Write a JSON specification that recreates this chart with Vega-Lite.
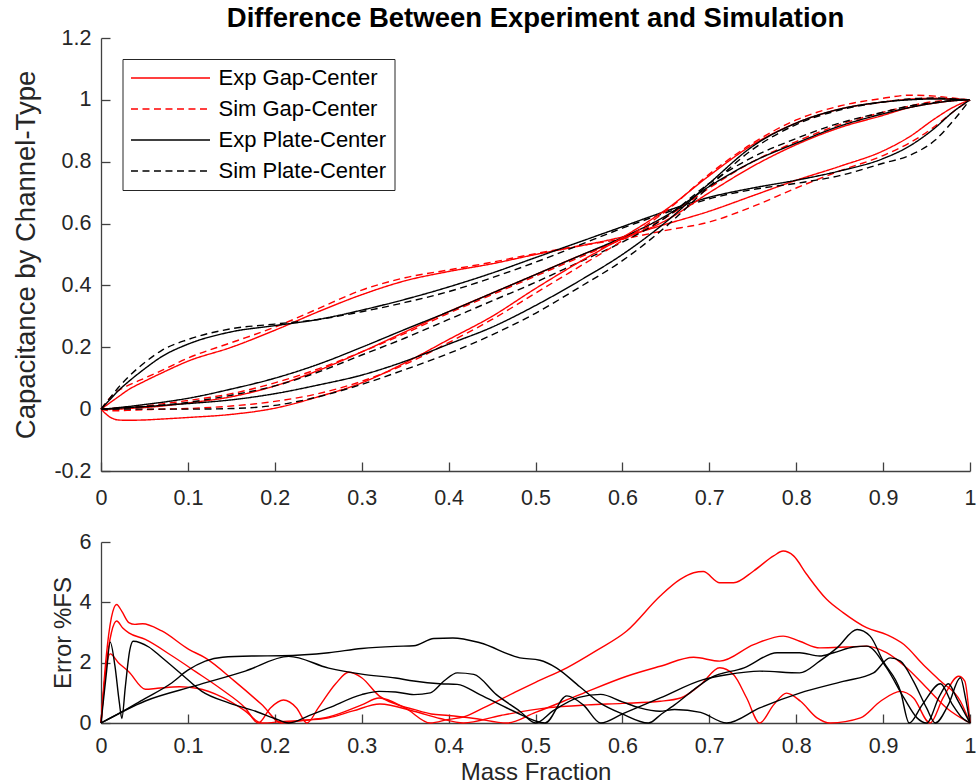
{
  "$schema": "https://vega.github.io/schema/vega-lite/v6.json",
  "padding": {"left": 12, "top": 4, "right": 0, "bottom": 0},
  "config": {
    "font": "Liberation Sans",
    "view": {"stroke": null},
    "axis": {
      "grid": false,
      "domainColor": "#404040",
      "domainWidth": 1.3,
      "tickColor": "#404040",
      "tickWidth": 1.3,
      "tickSize": -9,
      "labelFont": "Liberation Sans",
      "labelFontSize": 21.5,
      "labelColor": "#262626",
      "titleFont": "Liberation Sans",
      "titleFontWeight": "normal",
      "titleColor": "#262626",
      "labelFlush": false,
      "labelOverlap": false
    },
    "legend": {
      "orient": "none",
      "legendX": 21.5,
      "legendY": 21,
      "padding": 8,
      "strokeColor": "#262626",
      "fillColor": "#ffffff",
      "labelFont": "Liberation Sans",
      "labelFontSize": 22,
      "labelColor": "#000000",
      "labelLimit": 400,
      "symbolType": "M-4.16,0H4.16",
      "symbolSize": 361,
      "symbolStrokeWidth": 1.5,
      "symbolOffset": 29,
      "labelOffset": 37,
      "rowPadding": 9
    }
  },
  "datasets": {
    "capacitance": [
      {"series":"Exp Gap-Center","channel":"A","mass":0,"cap":0},
      {"series":"Exp Gap-Center","channel":"A","mass":0.01,"cap":0.02},
      {"series":"Exp Gap-Center","channel":"A","mass":0.02,"cap":0.04},
      {"series":"Exp Gap-Center","channel":"A","mass":0.03,"cap":0.06},
      {"series":"Exp Gap-Center","channel":"A","mass":0.05,"cap":0.09},
      {"series":"Exp Gap-Center","channel":"A","mass":0.07,"cap":0.117},
      {"series":"Exp Gap-Center","channel":"A","mass":0.1,"cap":0.155},
      {"series":"Exp Gap-Center","channel":"A","mass":0.15,"cap":0.2},
      {"series":"Exp Gap-Center","channel":"A","mass":0.2,"cap":0.255},
      {"series":"Exp Gap-Center","channel":"A","mass":0.25,"cap":0.315},
      {"series":"Exp Gap-Center","channel":"A","mass":0.3,"cap":0.37},
      {"series":"Exp Gap-Center","channel":"A","mass":0.35,"cap":0.415},
      {"series":"Exp Gap-Center","channel":"A","mass":0.4,"cap":0.445},
      {"series":"Exp Gap-Center","channel":"A","mass":0.45,"cap":0.47},
      {"series":"Exp Gap-Center","channel":"A","mass":0.5,"cap":0.5},
      {"series":"Exp Gap-Center","channel":"A","mass":0.55,"cap":0.527},
      {"series":"Exp Gap-Center","channel":"A","mass":0.6,"cap":0.557},
      {"series":"Exp Gap-Center","channel":"A","mass":0.65,"cap":0.598},
      {"series":"Exp Gap-Center","channel":"A","mass":0.7,"cap":0.64},
      {"series":"Exp Gap-Center","channel":"A","mass":0.75,"cap":0.69},
      {"series":"Exp Gap-Center","channel":"A","mass":0.8,"cap":0.74},
      {"series":"Exp Gap-Center","channel":"A","mass":0.85,"cap":0.785},
      {"series":"Exp Gap-Center","channel":"A","mass":0.9,"cap":0.835},
      {"series":"Exp Gap-Center","channel":"A","mass":0.93,"cap":0.88},
      {"series":"Exp Gap-Center","channel":"A","mass":0.96,"cap":0.94},
      {"series":"Exp Gap-Center","channel":"A","mass":0.98,"cap":0.975},
      {"series":"Exp Gap-Center","channel":"A","mass":1,"cap":1},

      {"series":"Sim Gap-Center","channel":"A","mass":0,"cap":0},
      {"series":"Sim Gap-Center","channel":"A","mass":0.01,"cap":0.035},
      {"series":"Sim Gap-Center","channel":"A","mass":0.02,"cap":0.06},
      {"series":"Sim Gap-Center","channel":"A","mass":0.03,"cap":0.075},
      {"series":"Sim Gap-Center","channel":"A","mass":0.05,"cap":0.1},
      {"series":"Sim Gap-Center","channel":"A","mass":0.07,"cap":0.125},
      {"series":"Sim Gap-Center","channel":"A","mass":0.1,"cap":0.165},
      {"series":"Sim Gap-Center","channel":"A","mass":0.15,"cap":0.215},
      {"series":"Sim Gap-Center","channel":"A","mass":0.2,"cap":0.265},
      {"series":"Sim Gap-Center","channel":"A","mass":0.25,"cap":0.325},
      {"series":"Sim Gap-Center","channel":"A","mass":0.3,"cap":0.385},
      {"series":"Sim Gap-Center","channel":"A","mass":0.35,"cap":0.425},
      {"series":"Sim Gap-Center","channel":"A","mass":0.4,"cap":0.45},
      {"series":"Sim Gap-Center","channel":"A","mass":0.45,"cap":0.475},
      {"series":"Sim Gap-Center","channel":"A","mass":0.5,"cap":0.503},
      {"series":"Sim Gap-Center","channel":"A","mass":0.55,"cap":0.528},
      {"series":"Sim Gap-Center","channel":"A","mass":0.6,"cap":0.55},
      {"series":"Sim Gap-Center","channel":"A","mass":0.65,"cap":0.578},
      {"series":"Sim Gap-Center","channel":"A","mass":0.7,"cap":0.605},
      {"series":"Sim Gap-Center","channel":"A","mass":0.75,"cap":0.655},
      {"series":"Sim Gap-Center","channel":"A","mass":0.8,"cap":0.715},
      {"series":"Sim Gap-Center","channel":"A","mass":0.85,"cap":0.77},
      {"series":"Sim Gap-Center","channel":"A","mass":0.9,"cap":0.82},
      {"series":"Sim Gap-Center","channel":"A","mass":0.93,"cap":0.86},
      {"series":"Sim Gap-Center","channel":"A","mass":0.96,"cap":0.915},
      {"series":"Sim Gap-Center","channel":"A","mass":0.98,"cap":0.96},
      {"series":"Sim Gap-Center","channel":"A","mass":1,"cap":1},

      {"series":"Exp Plate-Center","channel":"A","mass":0,"cap":0},
      {"series":"Exp Plate-Center","channel":"A","mass":0.01,"cap":0.03},
      {"series":"Exp Plate-Center","channel":"A","mass":0.02,"cap":0.06},
      {"series":"Exp Plate-Center","channel":"A","mass":0.03,"cap":0.085},
      {"series":"Exp Plate-Center","channel":"A","mass":0.05,"cap":0.13},
      {"series":"Exp Plate-Center","channel":"A","mass":0.07,"cap":0.17},
      {"series":"Exp Plate-Center","channel":"A","mass":0.1,"cap":0.21},
      {"series":"Exp Plate-Center","channel":"A","mass":0.15,"cap":0.25},
      {"series":"Exp Plate-Center","channel":"A","mass":0.2,"cap":0.27},
      {"series":"Exp Plate-Center","channel":"A","mass":0.25,"cap":0.29},
      {"series":"Exp Plate-Center","channel":"A","mass":0.3,"cap":0.32},
      {"series":"Exp Plate-Center","channel":"A","mass":0.35,"cap":0.355},
      {"series":"Exp Plate-Center","channel":"A","mass":0.4,"cap":0.395},
      {"series":"Exp Plate-Center","channel":"A","mass":0.45,"cap":0.44},
      {"series":"Exp Plate-Center","channel":"A","mass":0.5,"cap":0.49},
      {"series":"Exp Plate-Center","channel":"A","mass":0.55,"cap":0.54},
      {"series":"Exp Plate-Center","channel":"A","mass":0.6,"cap":0.59},
      {"series":"Exp Plate-Center","channel":"A","mass":0.65,"cap":0.64},
      {"series":"Exp Plate-Center","channel":"A","mass":0.7,"cap":0.685},
      {"series":"Exp Plate-Center","channel":"A","mass":0.75,"cap":0.715},
      {"series":"Exp Plate-Center","channel":"A","mass":0.8,"cap":0.74},
      {"series":"Exp Plate-Center","channel":"A","mass":0.85,"cap":0.77},
      {"series":"Exp Plate-Center","channel":"A","mass":0.9,"cap":0.81},
      {"series":"Exp Plate-Center","channel":"A","mass":0.93,"cap":0.85},
      {"series":"Exp Plate-Center","channel":"A","mass":0.96,"cap":0.91},
      {"series":"Exp Plate-Center","channel":"A","mass":0.98,"cap":0.96},
      {"series":"Exp Plate-Center","channel":"A","mass":1,"cap":1},

      {"series":"Sim Plate-Center","channel":"A","mass":0,"cap":0},
      {"series":"Sim Plate-Center","channel":"A","mass":0.01,"cap":0.035},
      {"series":"Sim Plate-Center","channel":"A","mass":0.02,"cap":0.07},
      {"series":"Sim Plate-Center","channel":"A","mass":0.03,"cap":0.1},
      {"series":"Sim Plate-Center","channel":"A","mass":0.05,"cap":0.15},
      {"series":"Sim Plate-Center","channel":"A","mass":0.07,"cap":0.19},
      {"series":"Sim Plate-Center","channel":"A","mass":0.1,"cap":0.225},
      {"series":"Sim Plate-Center","channel":"A","mass":0.15,"cap":0.26},
      {"series":"Sim Plate-Center","channel":"A","mass":0.2,"cap":0.275},
      {"series":"Sim Plate-Center","channel":"A","mass":0.25,"cap":0.29},
      {"series":"Sim Plate-Center","channel":"A","mass":0.3,"cap":0.315},
      {"series":"Sim Plate-Center","channel":"A","mass":0.35,"cap":0.345},
      {"series":"Sim Plate-Center","channel":"A","mass":0.4,"cap":0.38},
      {"series":"Sim Plate-Center","channel":"A","mass":0.45,"cap":0.425},
      {"series":"Sim Plate-Center","channel":"A","mass":0.5,"cap":0.475},
      {"series":"Sim Plate-Center","channel":"A","mass":0.55,"cap":0.53},
      {"series":"Sim Plate-Center","channel":"A","mass":0.6,"cap":0.585},
      {"series":"Sim Plate-Center","channel":"A","mass":0.65,"cap":0.635},
      {"series":"Sim Plate-Center","channel":"A","mass":0.7,"cap":0.68},
      {"series":"Sim Plate-Center","channel":"A","mass":0.75,"cap":0.71},
      {"series":"Sim Plate-Center","channel":"A","mass":0.8,"cap":0.73},
      {"series":"Sim Plate-Center","channel":"A","mass":0.85,"cap":0.755},
      {"series":"Sim Plate-Center","channel":"A","mass":0.9,"cap":0.795},
      {"series":"Sim Plate-Center","channel":"A","mass":0.93,"cap":0.82},
      {"series":"Sim Plate-Center","channel":"A","mass":0.96,"cap":0.87},
      {"series":"Sim Plate-Center","channel":"A","mass":0.98,"cap":0.93},
      {"series":"Sim Plate-Center","channel":"A","mass":1,"cap":1},

      {"series":"Exp Gap-Center","channel":"B","mass":0,"cap":0},
      {"series":"Exp Gap-Center","channel":"B","mass":0.01,"cap":0},
      {"series":"Exp Gap-Center","channel":"B","mass":0.02,"cap":0},
      {"series":"Exp Gap-Center","channel":"B","mass":0.03,"cap":0.002},
      {"series":"Exp Gap-Center","channel":"B","mass":0.05,"cap":0.005},
      {"series":"Exp Gap-Center","channel":"B","mass":0.07,"cap":0.01},
      {"series":"Exp Gap-Center","channel":"B","mass":0.1,"cap":0.02},
      {"series":"Exp Gap-Center","channel":"B","mass":0.15,"cap":0.04},
      {"series":"Exp Gap-Center","channel":"B","mass":0.2,"cap":0.075},
      {"series":"Exp Gap-Center","channel":"B","mass":0.25,"cap":0.125},
      {"series":"Exp Gap-Center","channel":"B","mass":0.3,"cap":0.185},
      {"series":"Exp Gap-Center","channel":"B","mass":0.35,"cap":0.25},
      {"series":"Exp Gap-Center","channel":"B","mass":0.4,"cap":0.315},
      {"series":"Exp Gap-Center","channel":"B","mass":0.45,"cap":0.375},
      {"series":"Exp Gap-Center","channel":"B","mass":0.5,"cap":0.435},
      {"series":"Exp Gap-Center","channel":"B","mass":0.55,"cap":0.495},
      {"series":"Exp Gap-Center","channel":"B","mass":0.6,"cap":0.55},
      {"series":"Exp Gap-Center","channel":"B","mass":0.65,"cap":0.61},
      {"series":"Exp Gap-Center","channel":"B","mass":0.7,"cap":0.7},
      {"series":"Exp Gap-Center","channel":"B","mass":0.75,"cap":0.785},
      {"series":"Exp Gap-Center","channel":"B","mass":0.8,"cap":0.855},
      {"series":"Exp Gap-Center","channel":"B","mass":0.85,"cap":0.91},
      {"series":"Exp Gap-Center","channel":"B","mass":0.9,"cap":0.95},
      {"series":"Exp Gap-Center","channel":"B","mass":0.93,"cap":0.975},
      {"series":"Exp Gap-Center","channel":"B","mass":0.96,"cap":0.99},
      {"series":"Exp Gap-Center","channel":"B","mass":0.98,"cap":0.997},
      {"series":"Exp Gap-Center","channel":"B","mass":1,"cap":1},

      {"series":"Sim Gap-Center","channel":"B","mass":0,"cap":0},
      {"series":"Sim Gap-Center","channel":"B","mass":0.01,"cap":0.002},
      {"series":"Sim Gap-Center","channel":"B","mass":0.02,"cap":0.004},
      {"series":"Sim Gap-Center","channel":"B","mass":0.03,"cap":0.006},
      {"series":"Sim Gap-Center","channel":"B","mass":0.05,"cap":0.01},
      {"series":"Sim Gap-Center","channel":"B","mass":0.07,"cap":0.017},
      {"series":"Sim Gap-Center","channel":"B","mass":0.1,"cap":0.028},
      {"series":"Sim Gap-Center","channel":"B","mass":0.15,"cap":0.05},
      {"series":"Sim Gap-Center","channel":"B","mass":0.2,"cap":0.085},
      {"series":"Sim Gap-Center","channel":"B","mass":0.25,"cap":0.13},
      {"series":"Sim Gap-Center","channel":"B","mass":0.3,"cap":0.185},
      {"series":"Sim Gap-Center","channel":"B","mass":0.35,"cap":0.245},
      {"series":"Sim Gap-Center","channel":"B","mass":0.4,"cap":0.31},
      {"series":"Sim Gap-Center","channel":"B","mass":0.45,"cap":0.37},
      {"series":"Sim Gap-Center","channel":"B","mass":0.5,"cap":0.43},
      {"series":"Sim Gap-Center","channel":"B","mass":0.55,"cap":0.49},
      {"series":"Sim Gap-Center","channel":"B","mass":0.6,"cap":0.55},
      {"series":"Sim Gap-Center","channel":"B","mass":0.65,"cap":0.62},
      {"series":"Sim Gap-Center","channel":"B","mass":0.7,"cap":0.715},
      {"series":"Sim Gap-Center","channel":"B","mass":0.75,"cap":0.8},
      {"series":"Sim Gap-Center","channel":"B","mass":0.8,"cap":0.865},
      {"series":"Sim Gap-Center","channel":"B","mass":0.85,"cap":0.92},
      {"series":"Sim Gap-Center","channel":"B","mass":0.9,"cap":0.96},
      {"series":"Sim Gap-Center","channel":"B","mass":0.93,"cap":0.98},
      {"series":"Sim Gap-Center","channel":"B","mass":0.96,"cap":0.995},
      {"series":"Sim Gap-Center","channel":"B","mass":0.98,"cap":1},
      {"series":"Sim Gap-Center","channel":"B","mass":1,"cap":1},

      {"series":"Exp Plate-Center","channel":"B","mass":0,"cap":0},
      {"series":"Exp Plate-Center","channel":"B","mass":0.01,"cap":0.002},
      {"series":"Exp Plate-Center","channel":"B","mass":0.02,"cap":0.005},
      {"series":"Exp Plate-Center","channel":"B","mass":0.03,"cap":0.008},
      {"series":"Exp Plate-Center","channel":"B","mass":0.05,"cap":0.015},
      {"series":"Exp Plate-Center","channel":"B","mass":0.07,"cap":0.022},
      {"series":"Exp Plate-Center","channel":"B","mass":0.1,"cap":0.035},
      {"series":"Exp Plate-Center","channel":"B","mass":0.15,"cap":0.065},
      {"series":"Exp Plate-Center","channel":"B","mass":0.2,"cap":0.1},
      {"series":"Exp Plate-Center","channel":"B","mass":0.25,"cap":0.145},
      {"series":"Exp Plate-Center","channel":"B","mass":0.3,"cap":0.2},
      {"series":"Exp Plate-Center","channel":"B","mass":0.35,"cap":0.258},
      {"series":"Exp Plate-Center","channel":"B","mass":0.4,"cap":0.315},
      {"series":"Exp Plate-Center","channel":"B","mass":0.45,"cap":0.375},
      {"series":"Exp Plate-Center","channel":"B","mass":0.5,"cap":0.435},
      {"series":"Exp Plate-Center","channel":"B","mass":0.55,"cap":0.495},
      {"series":"Exp Plate-Center","channel":"B","mass":0.6,"cap":0.555},
      {"series":"Exp Plate-Center","channel":"B","mass":0.65,"cap":0.625},
      {"series":"Exp Plate-Center","channel":"B","mass":0.7,"cap":0.72},
      {"series":"Exp Plate-Center","channel":"B","mass":0.75,"cap":0.8},
      {"series":"Exp Plate-Center","channel":"B","mass":0.8,"cap":0.86},
      {"series":"Exp Plate-Center","channel":"B","mass":0.85,"cap":0.915},
      {"series":"Exp Plate-Center","channel":"B","mass":0.9,"cap":0.955},
      {"series":"Exp Plate-Center","channel":"B","mass":0.93,"cap":0.975},
      {"series":"Exp Plate-Center","channel":"B","mass":0.96,"cap":0.99},
      {"series":"Exp Plate-Center","channel":"B","mass":0.98,"cap":0.997},
      {"series":"Exp Plate-Center","channel":"B","mass":1,"cap":1},

      {"series":"Sim Plate-Center","channel":"B","mass":0,"cap":0},
      {"series":"Sim Plate-Center","channel":"B","mass":0.01,"cap":0.001},
      {"series":"Sim Plate-Center","channel":"B","mass":0.02,"cap":0.002},
      {"series":"Sim Plate-Center","channel":"B","mass":0.03,"cap":0.004},
      {"series":"Sim Plate-Center","channel":"B","mass":0.05,"cap":0.008},
      {"series":"Sim Plate-Center","channel":"B","mass":0.07,"cap":0.013},
      {"series":"Sim Plate-Center","channel":"B","mass":0.1,"cap":0.022},
      {"series":"Sim Plate-Center","channel":"B","mass":0.15,"cap":0.045},
      {"series":"Sim Plate-Center","channel":"B","mass":0.2,"cap":0.075},
      {"series":"Sim Plate-Center","channel":"B","mass":0.25,"cap":0.12},
      {"series":"Sim Plate-Center","channel":"B","mass":0.3,"cap":0.175},
      {"series":"Sim Plate-Center","channel":"B","mass":0.35,"cap":0.23},
      {"series":"Sim Plate-Center","channel":"B","mass":0.4,"cap":0.29},
      {"series":"Sim Plate-Center","channel":"B","mass":0.45,"cap":0.35},
      {"series":"Sim Plate-Center","channel":"B","mass":0.5,"cap":0.41},
      {"series":"Sim Plate-Center","channel":"B","mass":0.55,"cap":0.475},
      {"series":"Sim Plate-Center","channel":"B","mass":0.6,"cap":0.54},
      {"series":"Sim Plate-Center","channel":"B","mass":0.65,"cap":0.62},
      {"series":"Sim Plate-Center","channel":"B","mass":0.7,"cap":0.73},
      {"series":"Sim Plate-Center","channel":"B","mass":0.75,"cap":0.815},
      {"series":"Sim Plate-Center","channel":"B","mass":0.8,"cap":0.875},
      {"series":"Sim Plate-Center","channel":"B","mass":0.85,"cap":0.925},
      {"series":"Sim Plate-Center","channel":"B","mass":0.9,"cap":0.96},
      {"series":"Sim Plate-Center","channel":"B","mass":0.93,"cap":0.98},
      {"series":"Sim Plate-Center","channel":"B","mass":0.96,"cap":0.992},
      {"series":"Sim Plate-Center","channel":"B","mass":0.98,"cap":0.998},
      {"series":"Sim Plate-Center","channel":"B","mass":1,"cap":1},

      {"series":"Exp Gap-Center","channel":"C","mass":0,"cap":0},
      {"series":"Exp Gap-Center","channel":"C","mass":0.01,"cap":-0.025},
      {"series":"Exp Gap-Center","channel":"C","mass":0.02,"cap":-0.035},
      {"series":"Exp Gap-Center","channel":"C","mass":0.03,"cap":-0.036},
      {"series":"Exp Gap-Center","channel":"C","mass":0.05,"cap":-0.035},
      {"series":"Exp Gap-Center","channel":"C","mass":0.07,"cap":-0.032},
      {"series":"Exp Gap-Center","channel":"C","mass":0.1,"cap":-0.027},
      {"series":"Exp Gap-Center","channel":"C","mass":0.15,"cap":-0.017},
      {"series":"Exp Gap-Center","channel":"C","mass":0.2,"cap":0.003},
      {"series":"Exp Gap-Center","channel":"C","mass":0.25,"cap":0.04},
      {"series":"Exp Gap-Center","channel":"C","mass":0.3,"cap":0.085},
      {"series":"Exp Gap-Center","channel":"C","mass":0.35,"cap":0.15},
      {"series":"Exp Gap-Center","channel":"C","mass":0.4,"cap":0.225},
      {"series":"Exp Gap-Center","channel":"C","mass":0.45,"cap":0.3},
      {"series":"Exp Gap-Center","channel":"C","mass":0.5,"cap":0.39},
      {"series":"Exp Gap-Center","channel":"C","mass":0.55,"cap":0.475},
      {"series":"Exp Gap-Center","channel":"C","mass":0.6,"cap":0.555},
      {"series":"Exp Gap-Center","channel":"C","mass":0.65,"cap":0.645},
      {"series":"Exp Gap-Center","channel":"C","mass":0.7,"cap":0.755},
      {"series":"Exp Gap-Center","channel":"C","mass":0.75,"cap":0.855},
      {"series":"Exp Gap-Center","channel":"C","mass":0.8,"cap":0.925},
      {"series":"Exp Gap-Center","channel":"C","mass":0.85,"cap":0.97},
      {"series":"Exp Gap-Center","channel":"C","mass":0.9,"cap":0.993},
      {"series":"Exp Gap-Center","channel":"C","mass":0.93,"cap":1.002},
      {"series":"Exp Gap-Center","channel":"C","mass":0.96,"cap":1.005},
      {"series":"Exp Gap-Center","channel":"C","mass":0.98,"cap":1.003},
      {"series":"Exp Gap-Center","channel":"C","mass":1,"cap":1},

      {"series":"Sim Gap-Center","channel":"C","mass":0,"cap":0},
      {"series":"Sim Gap-Center","channel":"C","mass":0.01,"cap":-0.005},
      {"series":"Sim Gap-Center","channel":"C","mass":0.02,"cap":-0.005},
      {"series":"Sim Gap-Center","channel":"C","mass":0.03,"cap":-0.004},
      {"series":"Sim Gap-Center","channel":"C","mass":0.05,"cap":-0.002},
      {"series":"Sim Gap-Center","channel":"C","mass":0.07,"cap":0},
      {"series":"Sim Gap-Center","channel":"C","mass":0.1,"cap":0.002},
      {"series":"Sim Gap-Center","channel":"C","mass":0.15,"cap":0.01},
      {"series":"Sim Gap-Center","channel":"C","mass":0.2,"cap":0.025},
      {"series":"Sim Gap-Center","channel":"C","mass":0.25,"cap":0.05},
      {"series":"Sim Gap-Center","channel":"C","mass":0.3,"cap":0.09},
      {"series":"Sim Gap-Center","channel":"C","mass":0.35,"cap":0.145},
      {"series":"Sim Gap-Center","channel":"C","mass":0.4,"cap":0.215},
      {"series":"Sim Gap-Center","channel":"C","mass":0.45,"cap":0.29},
      {"series":"Sim Gap-Center","channel":"C","mass":0.5,"cap":0.375},
      {"series":"Sim Gap-Center","channel":"C","mass":0.55,"cap":0.46},
      {"series":"Sim Gap-Center","channel":"C","mass":0.6,"cap":0.545},
      {"series":"Sim Gap-Center","channel":"C","mass":0.65,"cap":0.64},
      {"series":"Sim Gap-Center","channel":"C","mass":0.7,"cap":0.76},
      {"series":"Sim Gap-Center","channel":"C","mass":0.75,"cap":0.86},
      {"series":"Sim Gap-Center","channel":"C","mass":0.8,"cap":0.935},
      {"series":"Sim Gap-Center","channel":"C","mass":0.85,"cap":0.98},
      {"series":"Sim Gap-Center","channel":"C","mass":0.9,"cap":1.005},
      {"series":"Sim Gap-Center","channel":"C","mass":0.93,"cap":1.015},
      {"series":"Sim Gap-Center","channel":"C","mass":0.96,"cap":1.012},
      {"series":"Sim Gap-Center","channel":"C","mass":0.98,"cap":1.006},
      {"series":"Sim Gap-Center","channel":"C","mass":1,"cap":1},

      {"series":"Exp Plate-Center","channel":"C","mass":0,"cap":0},
      {"series":"Exp Plate-Center","channel":"C","mass":0.01,"cap":0.001},
      {"series":"Exp Plate-Center","channel":"C","mass":0.02,"cap":0.003},
      {"series":"Exp Plate-Center","channel":"C","mass":0.03,"cap":0.005},
      {"series":"Exp Plate-Center","channel":"C","mass":0.05,"cap":0.008},
      {"series":"Exp Plate-Center","channel":"C","mass":0.07,"cap":0.012},
      {"series":"Exp Plate-Center","channel":"C","mass":0.1,"cap":0.018},
      {"series":"Exp Plate-Center","channel":"C","mass":0.15,"cap":0.03},
      {"series":"Exp Plate-Center","channel":"C","mass":0.2,"cap":0.05},
      {"series":"Exp Plate-Center","channel":"C","mass":0.25,"cap":0.078},
      {"series":"Exp Plate-Center","channel":"C","mass":0.3,"cap":0.11},
      {"series":"Exp Plate-Center","channel":"C","mass":0.35,"cap":0.155},
      {"series":"Exp Plate-Center","channel":"C","mass":0.4,"cap":0.21},
      {"series":"Exp Plate-Center","channel":"C","mass":0.45,"cap":0.265},
      {"series":"Exp Plate-Center","channel":"C","mass":0.5,"cap":0.335},
      {"series":"Exp Plate-Center","channel":"C","mass":0.55,"cap":0.414},
      {"series":"Exp Plate-Center","channel":"C","mass":0.6,"cap":0.5},
      {"series":"Exp Plate-Center","channel":"C","mass":0.65,"cap":0.605},
      {"series":"Exp Plate-Center","channel":"C","mass":0.7,"cap":0.73},
      {"series":"Exp Plate-Center","channel":"C","mass":0.75,"cap":0.85},
      {"series":"Exp Plate-Center","channel":"C","mass":0.8,"cap":0.925},
      {"series":"Exp Plate-Center","channel":"C","mass":0.85,"cap":0.97},
      {"series":"Exp Plate-Center","channel":"C","mass":0.9,"cap":0.993},
      {"series":"Exp Plate-Center","channel":"C","mass":0.93,"cap":1},
      {"series":"Exp Plate-Center","channel":"C","mass":0.96,"cap":1.003},
      {"series":"Exp Plate-Center","channel":"C","mass":0.98,"cap":1.002},
      {"series":"Exp Plate-Center","channel":"C","mass":1,"cap":1},

      {"series":"Sim Plate-Center","channel":"C","mass":0,"cap":0},
      {"series":"Sim Plate-Center","channel":"C","mass":0.01,"cap":0},
      {"series":"Sim Plate-Center","channel":"C","mass":0.02,"cap":0},
      {"series":"Sim Plate-Center","channel":"C","mass":0.03,"cap":0},
      {"series":"Sim Plate-Center","channel":"C","mass":0.05,"cap":0},
      {"series":"Sim Plate-Center","channel":"C","mass":0.07,"cap":0},
      {"series":"Sim Plate-Center","channel":"C","mass":0.1,"cap":0},
      {"series":"Sim Plate-Center","channel":"C","mass":0.15,"cap":0.002},
      {"series":"Sim Plate-Center","channel":"C","mass":0.2,"cap":0.012},
      {"series":"Sim Plate-Center","channel":"C","mass":0.25,"cap":0.04},
      {"series":"Sim Plate-Center","channel":"C","mass":0.3,"cap":0.08},
      {"series":"Sim Plate-Center","channel":"C","mass":0.35,"cap":0.128},
      {"series":"Sim Plate-Center","channel":"C","mass":0.4,"cap":0.18},
      {"series":"Sim Plate-Center","channel":"C","mass":0.45,"cap":0.24},
      {"series":"Sim Plate-Center","channel":"C","mass":0.5,"cap":0.31},
      {"series":"Sim Plate-Center","channel":"C","mass":0.55,"cap":0.393},
      {"series":"Sim Plate-Center","channel":"C","mass":0.6,"cap":0.48},
      {"series":"Sim Plate-Center","channel":"C","mass":0.65,"cap":0.59},
      {"series":"Sim Plate-Center","channel":"C","mass":0.7,"cap":0.72},
      {"series":"Sim Plate-Center","channel":"C","mass":0.75,"cap":0.84},
      {"series":"Sim Plate-Center","channel":"C","mass":0.8,"cap":0.92},
      {"series":"Sim Plate-Center","channel":"C","mass":0.85,"cap":0.967},
      {"series":"Sim Plate-Center","channel":"C","mass":0.9,"cap":0.993},
      {"series":"Sim Plate-Center","channel":"C","mass":0.93,"cap":1.003},
      {"series":"Sim Plate-Center","channel":"C","mass":0.96,"cap":1.006},
      {"series":"Sim Plate-Center","channel":"C","mass":0.98,"cap":1.003},
      {"series":"Sim Plate-Center","channel":"C","mass":1,"cap":1}
    ],
    "error": [
      {"type":"Gap-Center","channel":"A","mass":0,"err":0},
      {"type":"Gap-Center","channel":"A","mass":0.006,"err":2.2},
      {"type":"Gap-Center","channel":"A","mass":0.012,"err":3.5},
      {"type":"Gap-Center","channel":"A","mass":0.018,"err":3.93},
      {"type":"Gap-Center","channel":"A","mass":0.024,"err":3.7},
      {"type":"Gap-Center","channel":"A","mass":0.032,"err":3.33},
      {"type":"Gap-Center","channel":"A","mass":0.039,"err":3.27},
      {"type":"Gap-Center","channel":"A","mass":0.048,"err":3.29},
      {"type":"Gap-Center","channel":"A","mass":0.07,"err":3.05},
      {"type":"Gap-Center","channel":"A","mass":0.101,"err":2.44},
      {"type":"Gap-Center","channel":"A","mass":0.12,"err":2.16},
      {"type":"Gap-Center","channel":"A","mass":0.154,"err":1.38},
      {"type":"Gap-Center","channel":"A","mass":0.185,"err":0.61},
      {"type":"Gap-Center","channel":"A","mass":0.208,"err":0},
      {"type":"Gap-Center","channel":"A","mass":0.23,"err":0.08},
      {"type":"Gap-Center","channel":"A","mass":0.262,"err":0.2},
      {"type":"Gap-Center","channel":"A","mass":0.3,"err":0.6},
      {"type":"Gap-Center","channel":"A","mass":0.32,"err":0.83},
      {"type":"Gap-Center","channel":"A","mass":0.35,"err":0.5},
      {"type":"Gap-Center","channel":"A","mass":0.379,"err":0},
      {"type":"Gap-Center","channel":"A","mass":0.4,"err":0.12},
      {"type":"Gap-Center","channel":"A","mass":0.417,"err":0.2},
      {"type":"Gap-Center","channel":"A","mass":0.44,"err":0.5},
      {"type":"Gap-Center","channel":"A","mass":0.475,"err":1.0},
      {"type":"Gap-Center","channel":"A","mass":0.5,"err":1.35},
      {"type":"Gap-Center","channel":"A","mass":0.536,"err":1.83},
      {"type":"Gap-Center","channel":"A","mass":0.57,"err":2.4},
      {"type":"Gap-Center","channel":"A","mass":0.605,"err":3.05},
      {"type":"Gap-Center","channel":"A","mass":0.6435,"err":4.21},
      {"type":"Gap-Center","channel":"A","mass":0.666,"err":4.75},
      {"type":"Gap-Center","channel":"A","mass":0.682,"err":4.98},
      {"type":"Gap-Center","channel":"A","mass":0.693,"err":5.02},
      {"type":"Gap-Center","channel":"A","mass":0.712,"err":4.65},
      {"type":"Gap-Center","channel":"A","mass":0.728,"err":4.65},
      {"type":"Gap-Center","channel":"A","mass":0.751,"err":5.04},
      {"type":"Gap-Center","channel":"A","mass":0.774,"err":5.54},
      {"type":"Gap-Center","channel":"A","mass":0.785,"err":5.7},
      {"type":"Gap-Center","channel":"A","mass":0.797,"err":5.54},
      {"type":"Gap-Center","channel":"A","mass":0.812,"err":4.93},
      {"type":"Gap-Center","channel":"A","mass":0.835,"err":4.1},
      {"type":"Gap-Center","channel":"A","mass":0.854,"err":3.66},
      {"type":"Gap-Center","channel":"A","mass":0.881,"err":3.16},
      {"type":"Gap-Center","channel":"A","mass":0.904,"err":2.93},
      {"type":"Gap-Center","channel":"A","mass":0.924,"err":2.6},
      {"type":"Gap-Center","channel":"A","mass":0.946,"err":1.94},
      {"type":"Gap-Center","channel":"A","mass":0.966,"err":1.39},
      {"type":"Gap-Center","channel":"A","mass":0.989,"err":0.72},
      {"type":"Gap-Center","channel":"A","mass":1,"err":0},

      {"type":"Gap-Center","channel":"B","mass":0,"err":0},
      {"type":"Gap-Center","channel":"B","mass":0.006,"err":1.9},
      {"type":"Gap-Center","channel":"B","mass":0.012,"err":3.0},
      {"type":"Gap-Center","channel":"B","mass":0.018,"err":3.38},
      {"type":"Gap-Center","channel":"B","mass":0.025,"err":3.15},
      {"type":"Gap-Center","channel":"B","mass":0.032,"err":2.99},
      {"type":"Gap-Center","channel":"B","mass":0.051,"err":2.77},
      {"type":"Gap-Center","channel":"B","mass":0.082,"err":2.22},
      {"type":"Gap-Center","channel":"B","mass":0.108,"err":1.72},
      {"type":"Gap-Center","channel":"B","mass":0.139,"err":1.11},
      {"type":"Gap-Center","channel":"B","mass":0.166,"err":0.5},
      {"type":"Gap-Center","channel":"B","mass":0.181,"err":0},
      {"type":"Gap-Center","channel":"B","mass":0.195,"err":0.5},
      {"type":"Gap-Center","channel":"B","mass":0.21,"err":0.76},
      {"type":"Gap-Center","channel":"B","mass":0.225,"err":0.5},
      {"type":"Gap-Center","channel":"B","mass":0.237,"err":0},
      {"type":"Gap-Center","channel":"B","mass":0.25,"err":0.5},
      {"type":"Gap-Center","channel":"B","mass":0.27,"err":1.3},
      {"type":"Gap-Center","channel":"B","mass":0.285,"err":1.68},
      {"type":"Gap-Center","channel":"B","mass":0.3,"err":1.5},
      {"type":"Gap-Center","channel":"B","mass":0.32,"err":0.9},
      {"type":"Gap-Center","channel":"B","mass":0.34,"err":0.62},
      {"type":"Gap-Center","channel":"B","mass":0.36,"err":0.45},
      {"type":"Gap-Center","channel":"B","mass":0.38,"err":0.3},
      {"type":"Gap-Center","channel":"B","mass":0.4,"err":0.25},
      {"type":"Gap-Center","channel":"B","mass":0.43,"err":0.15},
      {"type":"Gap-Center","channel":"B","mass":0.467,"err":0},
      {"type":"Gap-Center","channel":"B","mass":0.5,"err":0.35},
      {"type":"Gap-Center","channel":"B","mass":0.551,"err":0.94},
      {"type":"Gap-Center","channel":"B","mass":0.605,"err":1.55},
      {"type":"Gap-Center","channel":"B","mass":0.6435,"err":1.88},
      {"type":"Gap-Center","channel":"B","mass":0.682,"err":2.18},
      {"type":"Gap-Center","channel":"B","mass":0.712,"err":2.05},
      {"type":"Gap-Center","channel":"B","mass":0.751,"err":2.6},
      {"type":"Gap-Center","channel":"B","mass":0.785,"err":2.88},
      {"type":"Gap-Center","channel":"B","mass":0.804,"err":2.71},
      {"type":"Gap-Center","channel":"B","mass":0.827,"err":2.49},
      {"type":"Gap-Center","channel":"B","mass":0.858,"err":2.52},
      {"type":"Gap-Center","channel":"B","mass":0.881,"err":2.55},
      {"type":"Gap-Center","channel":"B","mass":0.904,"err":2.33},
      {"type":"Gap-Center","channel":"B","mass":0.927,"err":1.83},
      {"type":"Gap-Center","channel":"B","mass":0.95,"err":1.17},
      {"type":"Gap-Center","channel":"B","mass":0.973,"err":0.5},
      {"type":"Gap-Center","channel":"B","mass":1,"err":0},

      {"type":"Gap-Center","channel":"C","mass":0,"err":0},
      {"type":"Gap-Center","channel":"C","mass":0.005,"err":1.6},
      {"type":"Gap-Center","channel":"C","mass":0.0106,"err":2.29},
      {"type":"Gap-Center","channel":"C","mass":0.02,"err":2.0},
      {"type":"Gap-Center","channel":"C","mass":0.032,"err":1.7},
      {"type":"Gap-Center","channel":"C","mass":0.051,"err":1.12},
      {"type":"Gap-Center","channel":"C","mass":0.065,"err":1.15},
      {"type":"Gap-Center","channel":"C","mass":0.09,"err":1.2},
      {"type":"Gap-Center","channel":"C","mass":0.11,"err":1.15},
      {"type":"Gap-Center","channel":"C","mass":0.14,"err":0.85},
      {"type":"Gap-Center","channel":"C","mass":0.165,"err":0.42},
      {"type":"Gap-Center","channel":"C","mass":0.185,"err":0},
      {"type":"Gap-Center","channel":"C","mass":0.21,"err":0.05},
      {"type":"Gap-Center","channel":"C","mass":0.24,"err":0.1},
      {"type":"Gap-Center","channel":"C","mass":0.262,"err":0.17},
      {"type":"Gap-Center","channel":"C","mass":0.29,"err":0.4},
      {"type":"Gap-Center","channel":"C","mass":0.321,"err":0.63},
      {"type":"Gap-Center","channel":"C","mass":0.36,"err":0.39},
      {"type":"Gap-Center","channel":"C","mass":0.39,"err":0.15},
      {"type":"Gap-Center","channel":"C","mass":0.417,"err":0},
      {"type":"Gap-Center","channel":"C","mass":0.46,"err":0.25},
      {"type":"Gap-Center","channel":"C","mass":0.513,"err":0.5},
      {"type":"Gap-Center","channel":"C","mass":0.56,"err":0.6},
      {"type":"Gap-Center","channel":"C","mass":0.6,"err":0.65},
      {"type":"Gap-Center","channel":"C","mass":0.6435,"err":0.72},
      {"type":"Gap-Center","channel":"C","mass":0.667,"err":0.83},
      {"type":"Gap-Center","channel":"C","mass":0.69,"err":1.27},
      {"type":"Gap-Center","channel":"C","mass":0.712,"err":1.83},
      {"type":"Gap-Center","channel":"C","mass":0.728,"err":1.6},
      {"type":"Gap-Center","channel":"C","mass":0.743,"err":0.83},
      {"type":"Gap-Center","channel":"C","mass":0.758,"err":0},
      {"type":"Gap-Center","channel":"C","mass":0.774,"err":0.6},
      {"type":"Gap-Center","channel":"C","mass":0.789,"err":0.99},
      {"type":"Gap-Center","channel":"C","mass":0.805,"err":0.72},
      {"type":"Gap-Center","channel":"C","mass":0.824,"err":0.17},
      {"type":"Gap-Center","channel":"C","mass":0.839,"err":0},
      {"type":"Gap-Center","channel":"C","mass":0.874,"err":0.17},
      {"type":"Gap-Center","channel":"C","mass":0.897,"err":0.72},
      {"type":"Gap-Center","channel":"C","mass":0.92,"err":1.05},
      {"type":"Gap-Center","channel":"C","mass":0.935,"err":0.83},
      {"type":"Gap-Center","channel":"C","mass":0.954,"err":0},
      {"type":"Gap-Center","channel":"C","mass":0.969,"err":0.83},
      {"type":"Gap-Center","channel":"C","mass":0.987,"err":1.55},
      {"type":"Gap-Center","channel":"C","mass":0.994,"err":1.39},
      {"type":"Gap-Center","channel":"C","mass":1,"err":0},

      {"type":"Plate-Center","channel":"A","mass":0,"err":0},
      {"type":"Plate-Center","channel":"A","mass":0.02,"err":0.3},
      {"type":"Plate-Center","channel":"A","mass":0.05,"err":0.8},
      {"type":"Plate-Center","channel":"A","mass":0.08,"err":1.3},
      {"type":"Plate-Center","channel":"A","mass":0.1,"err":1.75},
      {"type":"Plate-Center","channel":"A","mass":0.12,"err":2.05},
      {"type":"Plate-Center","channel":"A","mass":0.14,"err":2.18},
      {"type":"Plate-Center","channel":"A","mass":0.175,"err":2.22},
      {"type":"Plate-Center","channel":"A","mass":0.208,"err":2.23},
      {"type":"Plate-Center","channel":"A","mass":0.262,"err":2.33},
      {"type":"Plate-Center","channel":"A","mass":0.3,"err":2.47},
      {"type":"Plate-Center","channel":"A","mass":0.339,"err":2.54},
      {"type":"Plate-Center","channel":"A","mass":0.36,"err":2.56},
      {"type":"Plate-Center","channel":"A","mass":0.383,"err":2.8},
      {"type":"Plate-Center","channel":"A","mass":0.405,"err":2.82},
      {"type":"Plate-Center","channel":"A","mass":0.436,"err":2.66},
      {"type":"Plate-Center","channel":"A","mass":0.482,"err":2.16},
      {"type":"Plate-Center","channel":"A","mass":0.505,"err":2.08},
      {"type":"Plate-Center","channel":"A","mass":0.524,"err":1.83},
      {"type":"Plate-Center","channel":"A","mass":0.551,"err":1.2},
      {"type":"Plate-Center","channel":"A","mass":0.575,"err":0.65},
      {"type":"Plate-Center","channel":"A","mass":0.6,"err":0.3},
      {"type":"Plate-Center","channel":"A","mass":0.63,"err":0},
      {"type":"Plate-Center","channel":"A","mass":0.645,"err":0.3},
      {"type":"Plate-Center","channel":"A","mass":0.66,"err":0.6},
      {"type":"Plate-Center","channel":"A","mass":0.682,"err":1.1},
      {"type":"Plate-Center","channel":"A","mass":0.701,"err":1.49},
      {"type":"Plate-Center","channel":"A","mass":0.74,"err":1.83},
      {"type":"Plate-Center","channel":"A","mass":0.778,"err":2.33},
      {"type":"Plate-Center","channel":"A","mass":0.804,"err":2.33},
      {"type":"Plate-Center","channel":"A","mass":0.827,"err":2.22},
      {"type":"Plate-Center","channel":"A","mass":0.843,"err":2.33},
      {"type":"Plate-Center","channel":"A","mass":0.866,"err":2.52},
      {"type":"Plate-Center","channel":"A","mass":0.881,"err":2.55},
      {"type":"Plate-Center","channel":"A","mass":0.904,"err":1.83},
      {"type":"Plate-Center","channel":"A","mass":0.924,"err":0.83},
      {"type":"Plate-Center","channel":"A","mass":0.939,"err":0.17},
      {"type":"Plate-Center","channel":"A","mass":0.95,"err":0},
      {"type":"Plate-Center","channel":"A","mass":0.965,"err":0.9},
      {"type":"Plate-Center","channel":"A","mass":0.975,"err":1.3},
      {"type":"Plate-Center","channel":"A","mass":0.985,"err":0.8},
      {"type":"Plate-Center","channel":"A","mass":1,"err":0},

      {"type":"Plate-Center","channel":"B","mass":0,"err":0},
      {"type":"Plate-Center","channel":"B","mass":0.051,"err":0.73},
      {"type":"Plate-Center","channel":"B","mass":0.108,"err":1.23},
      {"type":"Plate-Center","channel":"B","mass":0.166,"err":1.72},
      {"type":"Plate-Center","channel":"B","mass":0.216,"err":2.21},
      {"type":"Plate-Center","channel":"B","mass":0.262,"err":1.82},
      {"type":"Plate-Center","channel":"B","mass":0.3,"err":1.62},
      {"type":"Plate-Center","channel":"B","mass":0.339,"err":1.49},
      {"type":"Plate-Center","channel":"B","mass":0.36,"err":1.39},
      {"type":"Plate-Center","channel":"B","mass":0.39,"err":1.3},
      {"type":"Plate-Center","channel":"B","mass":0.41,"err":1.28},
      {"type":"Plate-Center","channel":"B","mass":0.436,"err":0.94},
      {"type":"Plate-Center","channel":"B","mass":0.475,"err":0.39},
      {"type":"Plate-Center","channel":"B","mass":0.511,"err":0},
      {"type":"Plate-Center","channel":"B","mass":0.536,"err":0.9},
      {"type":"Plate-Center","channel":"B","mass":0.555,"err":0.6},
      {"type":"Plate-Center","channel":"B","mass":0.575,"err":0},
      {"type":"Plate-Center","channel":"B","mass":0.6,"err":0.3},
      {"type":"Plate-Center","channel":"B","mass":0.6435,"err":0.83},
      {"type":"Plate-Center","channel":"B","mass":0.693,"err":1.44},
      {"type":"Plate-Center","channel":"B","mass":0.72,"err":1.6},
      {"type":"Plate-Center","channel":"B","mass":0.758,"err":1.72},
      {"type":"Plate-Center","channel":"B","mass":0.804,"err":1.66},
      {"type":"Plate-Center","channel":"B","mass":0.827,"err":2.05},
      {"type":"Plate-Center","channel":"B","mass":0.847,"err":2.49},
      {"type":"Plate-Center","channel":"B","mass":0.87,"err":3.1},
      {"type":"Plate-Center","channel":"B","mass":0.885,"err":2.88},
      {"type":"Plate-Center","channel":"B","mass":0.9,"err":2.05},
      {"type":"Plate-Center","channel":"B","mass":0.92,"err":1.05},
      {"type":"Plate-Center","channel":"B","mass":0.93,"err":0},
      {"type":"Plate-Center","channel":"B","mass":0.945,"err":0.6},
      {"type":"Plate-Center","channel":"B","mass":0.966,"err":1.3},
      {"type":"Plate-Center","channel":"B","mass":0.98,"err":0.6},
      {"type":"Plate-Center","channel":"B","mass":0.99,"err":0.2},
      {"type":"Plate-Center","channel":"B","mass":1,"err":0},

      {"type":"Plate-Center","channel":"C","mass":0,"err":0},
      {"type":"Plate-Center","channel":"C","mass":0.006,"err":1.6},
      {"type":"Plate-Center","channel":"C","mass":0.0106,"err":2.68},
      {"type":"Plate-Center","channel":"C","mass":0.016,"err":1.9},
      {"type":"Plate-Center","channel":"C","mass":0.021,"err":0.7},
      {"type":"Plate-Center","channel":"C","mass":0.024,"err":0.15},
      {"type":"Plate-Center","channel":"C","mass":0.028,"err":1.2},
      {"type":"Plate-Center","channel":"C","mass":0.033,"err":2.4},
      {"type":"Plate-Center","channel":"C","mass":0.037,"err":2.71},
      {"type":"Plate-Center","channel":"C","mass":0.055,"err":2.52},
      {"type":"Plate-Center","channel":"C","mass":0.07,"err":2.17},
      {"type":"Plate-Center","channel":"C","mass":0.093,"err":1.61},
      {"type":"Plate-Center","channel":"C","mass":0.116,"err":1.05},
      {"type":"Plate-Center","channel":"C","mass":0.147,"err":0.67},
      {"type":"Plate-Center","channel":"C","mass":0.178,"err":0.39},
      {"type":"Plate-Center","channel":"C","mass":0.2,"err":0.15},
      {"type":"Plate-Center","channel":"C","mass":0.216,"err":0},
      {"type":"Plate-Center","channel":"C","mass":0.24,"err":0.25},
      {"type":"Plate-Center","channel":"C","mass":0.262,"err":0.5},
      {"type":"Plate-Center","channel":"C","mass":0.3,"err":0.94},
      {"type":"Plate-Center","channel":"C","mass":0.32,"err":1.05},
      {"type":"Plate-Center","channel":"C","mass":0.339,"err":1.03},
      {"type":"Plate-Center","channel":"C","mass":0.36,"err":0.94},
      {"type":"Plate-Center","channel":"C","mass":0.379,"err":1.0},
      {"type":"Plate-Center","channel":"C","mass":0.395,"err":1.4},
      {"type":"Plate-Center","channel":"C","mass":0.41,"err":1.66},
      {"type":"Plate-Center","channel":"C","mass":0.429,"err":1.61},
      {"type":"Plate-Center","channel":"C","mass":0.455,"err":0.94},
      {"type":"Plate-Center","channel":"C","mass":0.482,"err":0.39},
      {"type":"Plate-Center","channel":"C","mass":0.5,"err":0},
      {"type":"Plate-Center","channel":"C","mass":0.52,"err":0.4},
      {"type":"Plate-Center","channel":"C","mass":0.55,"err":0.85},
      {"type":"Plate-Center","channel":"C","mass":0.575,"err":0.95},
      {"type":"Plate-Center","channel":"C","mass":0.6,"err":0.7},
      {"type":"Plate-Center","channel":"C","mass":0.62,"err":0.5},
      {"type":"Plate-Center","channel":"C","mass":0.643,"err":0.39},
      {"type":"Plate-Center","channel":"C","mass":0.66,"err":0.45},
      {"type":"Plate-Center","channel":"C","mass":0.69,"err":0.35},
      {"type":"Plate-Center","channel":"C","mass":0.72,"err":0},
      {"type":"Plate-Center","channel":"C","mass":0.758,"err":0.5},
      {"type":"Plate-Center","channel":"C","mass":0.804,"err":0.99},
      {"type":"Plate-Center","channel":"C","mass":0.854,"err":1.38},
      {"type":"Plate-Center","channel":"C","mass":0.889,"err":1.66},
      {"type":"Plate-Center","channel":"C","mass":0.908,"err":2.16},
      {"type":"Plate-Center","channel":"C","mass":0.92,"err":2.05},
      {"type":"Plate-Center","channel":"C","mass":0.935,"err":1.38},
      {"type":"Plate-Center","channel":"C","mass":0.95,"err":0.5},
      {"type":"Plate-Center","channel":"C","mass":0.96,"err":0},
      {"type":"Plate-Center","channel":"C","mass":0.975,"err":0.6},
      {"type":"Plate-Center","channel":"C","mass":0.989,"err":1.5},
      {"type":"Plate-Center","channel":"C","mass":0.995,"err":0.8},
      {"type":"Plate-Center","channel":"C","mass":1,"err":0}
    ]
  },
  "vconcat": [
    {
      "title": {
        "text": "Difference Between Experiment and Simulation",
        "font": "Liberation Sans",
        "fontSize": 27.5,
        "fontWeight": "bold",
        "color": "#000000",
        "anchor": "middle",
        "baseline": "alphabetic",
        "offset": -27
      },
      "width": 869,
      "height": 433,
      "data": {"name": "capacitance"},
      "mark": {"type": "line", "interpolate": "monotone", "strokeWidth": 1.4},
      "encoding": {
        "x": {
          "field": "mass",
          "type": "quantitative",
          "scale": {"domain": [0, 1], "nice": false, "zero": false},
          "axis": {
            "title": null,
            "values": [0, 0.1, 0.2, 0.3, 0.4, 0.5, 0.6, 0.7, 0.8, 0.9, 1],
            "format": "~g",
            "labelPadding": 25
          }
        },
        "y": {
          "field": "cap",
          "type": "quantitative",
          "scale": {"domain": [-0.2, 1.2], "nice": false, "zero": false},
          "axis": {
            "title": "Capacitance by Channel-Type",
            "titleFontSize": 27.5,
            "titlePadding": 13.5,
            "values": [-0.2, 0, 0.2, 0.4, 0.6, 0.8, 1, 1.2],
            "format": "~g",
            "labelExpr": "replace(datum.label, '\u2212', '-')",
            "labelPadding": 19
          }
        },
        "color": {
          "field": "series",
          "type": "nominal",
          "scale": {
            "domain": ["Exp Gap-Center", "Sim Gap-Center", "Exp Plate-Center", "Sim Plate-Center"],
            "range": ["#ff0000", "#ff0000", "#000000", "#000000"]
          },
          "legend": {"title": null}
        },
        "strokeDash": {
          "field": "series",
          "type": "nominal",
          "scale": {
            "domain": ["Exp Gap-Center", "Sim Gap-Center", "Exp Plate-Center", "Sim Plate-Center"],
            "range": [[1, 0], [7, 4.5], [1, 0], [7, 4.5]]
          },
          "legend": {"title": null}
        },
        "detail": {"field": "channel"}
      }
    },
    {
      "width": 869,
      "height": 181,
      "data": {"name": "error"},
      "mark": {"type": "line", "interpolate": "monotone", "strokeWidth": 1.4},
      "encoding": {
        "x": {
          "field": "mass",
          "type": "quantitative",
          "scale": {"domain": [0, 1], "nice": false, "zero": false},
          "axis": {
            "title": "Mass Fraction",
            "titleFontSize": 24,
            "titlePadding": 4,
            "values": [0, 0.1, 0.2, 0.3, 0.4, 0.5, 0.6, 0.7, 0.8, 0.9, 1],
            "format": "~g",
            "labelPadding": 21
          }
        },
        "y": {
          "field": "err",
          "type": "quantitative",
          "scale": {"domain": [0, 6], "nice": false, "zero": false},
          "axis": {
            "title": "Error %FS",
            "titleFontSize": 24,
            "titlePadding": 4,
            "values": [0, 2, 4, 6],
            "labelPadding": 19
          }
        },
        "color": {
          "field": "type",
          "type": "nominal",
          "scale": {"domain": ["Gap-Center", "Plate-Center"], "range": ["#ff0000", "#000000"]},
          "legend": null
        },
        "detail": {"field": "channel"}
      }
    }
  ],
  "spacing": 22,
  "resolve": {"scale": {"color": "independent", "strokeDash": "independent", "x": "independent", "y": "independent"}}
}
